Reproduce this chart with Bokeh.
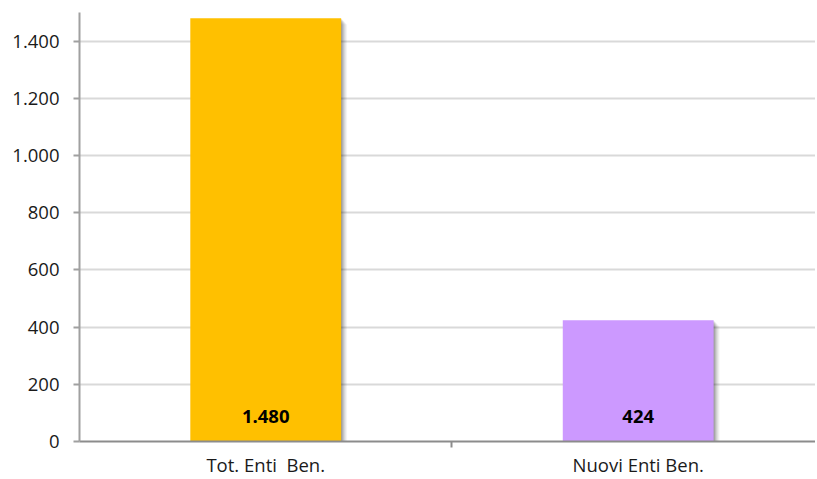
from bokeh.plotting import figure
from bokeh.models import Range1d, FixedTicker, ColumnDataSource
from bokeh.core.properties import value
from bokeh.embed import file_html
from bokeh.resources import INLINE

categories = ["Tot. Enti\u00a0 Ben.", "Nuovi Enti Ben."]
values = [1480, 424]
value_labels = ["1.480", "424"]
colors = ["#FFC000", "#CC99FF"]
y_ticks = [0, 200, 400, 600, 800, 1000, 1200, 1400]
y_tick_labels = ["0", "200", "400", "600", "800", "1.000", "1.200", "1.400"]

FONT = "Open Sans"

X_END = 1.976
p = figure(width=815, height=479, output_backend="svg", toolbar_location=None,
           x_range=Range1d(0, X_END), y_range=Range1d(0, 1500),
           min_border_left=79, min_border_top=12, min_border_right=0, min_border_bottom=0)
p.outline_line_color = None
p.background_fill_color = "white"
p.border_fill_color = "white"

xs = [i + 0.5 for i in range(len(categories))]
bw = 0.405
src = ColumnDataSource(dict(x=xs, top=values, color=colors, label=value_labels))

# soft shadow layers
px_x = X_END / 736.0
px_y = 1500 / 429.0
for k, a in [(6, 0.04), (5, 0.05), (4, 0.06), (3, 0.08), (2, 0.10), (1, 0.12)]:
    p.quad(left=[x - bw / 2 + k * px_x for x in xs], right=[x + bw / 2 + k * px_x for x in xs],
           top=[v - k * px_y for v in values], bottom=[0] * len(values),
           fill_color="black", fill_alpha=a, line_color=None)

p.vbar(x="x", top="top", width=bw, fill_color="color", line_color=None, source=src)

p.text(x="x", y=0, text="label", source=src, y_offset=-25,
       text_align="center", text_baseline="middle",
       text_font=value(FONT), text_font_style="bold", text_font_size="18.5px",
       text_color="black")

# y axis
p.yaxis.ticker = FixedTicker(ticks=y_ticks)
p.yaxis.major_label_overrides = {t: l for t, l in zip(y_ticks, y_tick_labels)}
p.yaxis.major_label_text_font = FONT
p.yaxis.major_label_text_font_size = "18.5px"
p.yaxis.major_label_text_color = "#1a1a1a"
p.yaxis.axis_line_color = "#a0a0a0"
p.yaxis.axis_line_width = 2
p.yaxis.major_tick_line_color = "#a0a0a0"
p.yaxis.major_tick_line_width = 2
p.yaxis.major_tick_out = 6
p.yaxis.major_tick_in = 0
p.yaxis.minor_tick_line_color = None
p.yaxis.major_label_standoff = 14

# x axis
p.xaxis.ticker = FixedTicker(ticks=xs, minor_ticks=[1.0])
p.xaxis.major_label_overrides = {x: c for x, c in zip(xs, categories)}
p.xaxis.major_label_text_font = FONT
p.xaxis.major_label_text_font_size = "18.5px"
p.xaxis.major_label_text_color = "#1a1a1a"
p.xaxis.axis_line_color = "#8c8c8c"
p.xaxis.axis_line_width = 2
p.xaxis.major_tick_line_color = None
p.xaxis.minor_tick_line_color = "#8c8c8c"
p.xaxis.minor_tick_line_width = 2
p.xaxis.minor_tick_out = 6
p.xaxis.minor_tick_in = 0
p.xaxis.major_label_standoff = 4

p.xgrid.grid_line_color = None
p.ygrid.grid_line_color = "#d9d9d9"
p.ygrid.grid_line_width = 2
p.ygrid.ticker = FixedTicker(ticks=y_ticks[1:])

open("out.html", "w").write(file_html(p, INLINE))
